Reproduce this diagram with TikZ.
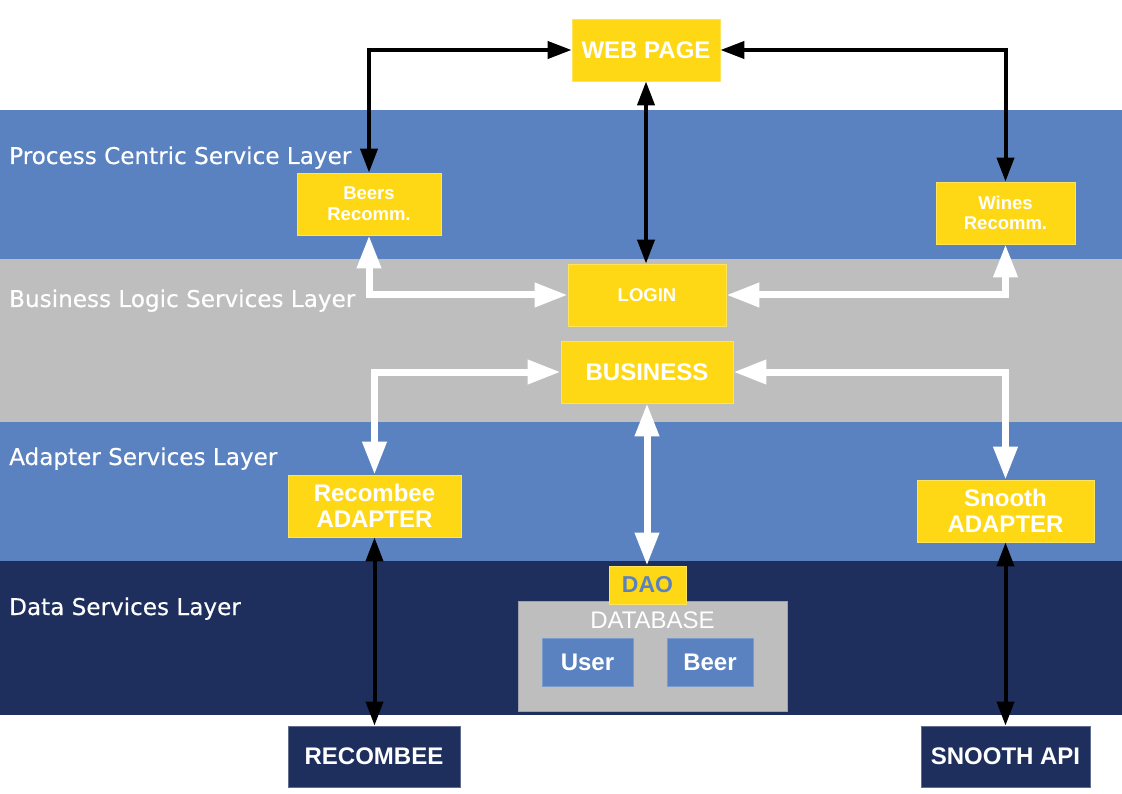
\documentclass[tikz,border=0pt]{standalone}
\usepackage{fontspec}
\setmainfont{Liberation Sans}
\newfontfamily\layerfont[FakeBold=0.35]{DejaVu Sans}
\usetikzlibrary{arrows.meta}
\definecolor{bandblue}{RGB}{91,130,192}
\definecolor{bandgray}{RGB}{190,190,190}
\definecolor{navy}{RGB}{30,47,94}
\definecolor{boxyellow}{RGB}{254,216,20}
\tikzset{
  ybox/.style={fill=boxyellow, draw=boxyellow!70!white, line width=0.8pt, inner sep=0pt, text=white, align=center, font=\bfseries\fontsize{24}{26}\selectfont},
  ysmall/.style={ybox, font=\bfseries\fontsize{18.5}{20.7}\selectfont},
  nbox/.style={fill=navy, draw=navy!70!white, line width=0.8pt, inner sep=0pt, text=white, align=center, font=\bfseries\fontsize{24}{26}\selectfont},
  bbox/.style={fill=bandblue, draw=bandblue!80!white, line width=0.8pt, inner sep=0pt, text=white, font=\bfseries\fontsize{24}{26}\selectfont},
  layerlabel/.style={anchor=base west, inner sep=0pt, text=white, font=\layerfont\fontsize{23.1}{26}\selectfont},
  blk/.style={draw=black, line width=4pt, {Triangle[length=24pt,width=17pt]}-{Triangle[length=24pt,width=17pt]}},
  wht/.style={draw=white, line width=7pt, {Triangle[length=33pt,width=23pt]}-{Triangle[length=33pt,width=23pt]}},
}
\begin{document}
\begin{tikzpicture}[x=1pt,y=-1pt]
\useasboundingbox (0,0) rectangle (1122,794);
\fill[white] (0,0) rectangle (1122,794);
% bands
\fill[bandblue] (0,110) rectangle (1122,259);
\fill[bandgray] (0,259) rectangle (1122,422);
\fill[bandblue] (0,422) rectangle (1122,561);
\fill[navy] (0,561) rectangle (1122,715);
% layer labels
\node[layerlabel] (l1) at (9,164) {Process Centric Service Layer};
\node[layerlabel] (l2) at (9,307) {Business Logic Services Layer};
\node[layerlabel] (l3) at (9,465) {Adapter Services Layer};
\node[layerlabel] (l4) at (9,615) {Data Services Layer};
% boxes
\node[ybox, minimum width=148pt, minimum height=62pt] (web) at (646,50) {WEB PAGE};
\node[ysmall, minimum width=144pt, minimum height=62pt] (beers) at (369,204) {Beers\\Recomm.};
\node[ysmall, minimum width=139pt, minimum height=62pt] (wines) at (1005.5,213) {Wines\\Recomm.};
\node[ysmall, minimum width=158pt, minimum height=62pt] (login) at (647,295) {LOGIN};
\node[ybox, minimum width=172pt, minimum height=62pt] (business) at (647,372) {BUSINESS};
\node[ybox, minimum width=173pt, minimum height=62pt] (recadapt) at (374.5,506) {Recombee\\ADAPTER};
\node[ybox, minimum width=177pt, minimum height=62pt] (snadapt) at (1005.5,511) {Snooth\\ADAPTER};
% database
\node[fill=bandgray, draw=bandgray!80!navy, line width=0.8pt, inner sep=0pt, minimum width=269pt, minimum height=110pt] (db) at (652.5,656) {};
\node[text=white, inner sep=0pt, font=\fontsize{24}{26}\selectfont] (dblabel) at (652.5,620) {DATABASE};
\node[ybox, text=bandblue, minimum width=77pt, minimum height=38pt, font=\bfseries\fontsize{23}{25}\selectfont] (dao) at (647.5,585) {DAO};
\node[bbox, minimum width=91pt, minimum height=48pt] (user) at (587.5,662) {User};
\node[bbox, minimum width=86pt, minimum height=48pt] (beer) at (710,662) {Beer};
% external
\node[nbox, minimum width=172pt, minimum height=61pt] (recombee) at (374,756.5) {RECOMBEE};
\node[nbox, minimum width=169pt, minimum height=61pt] (snooth) at (1005.5,756.5) {SNOOTH API};
% black connectors
\draw[blk] (beers.north) |- (web.west);
\draw[blk] (web.east) -| (wines.north);
\draw[blk] (web.south) -- (web.south |- login.north);
\draw[blk] (recadapt.south) -- (recadapt.south |- recombee.north);
\draw[blk] (snadapt.south) -- (snadapt.south |- snooth.north);
% white connectors
\draw[wht] (beers.south) |- (login.west);
\draw[wht] (login.east) -| (wines.south);
\draw[wht] (business.west) -| (recadapt.north);
\draw[wht] (business.east) -| (snadapt.north);
\draw[wht] (business.south) -- (business.south |- dao.north);
\end{tikzpicture}
\end{document}
